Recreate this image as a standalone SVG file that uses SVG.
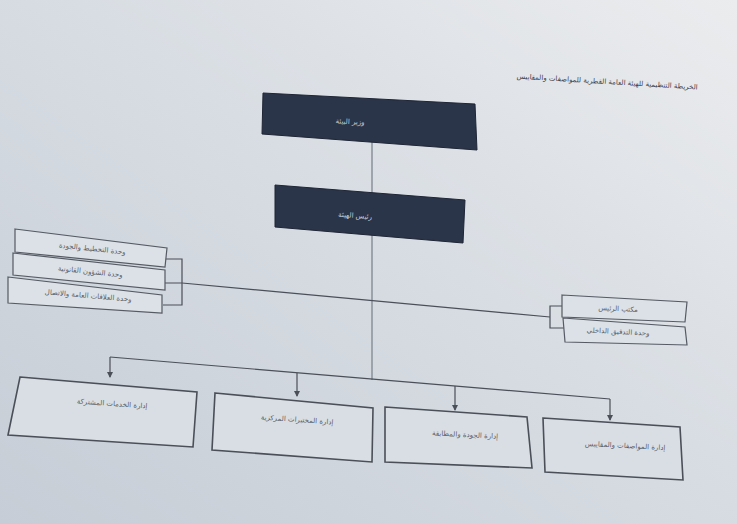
<svg xmlns="http://www.w3.org/2000/svg" width="737" height="524" viewBox="0 0 737 524">
<defs>
<linearGradient id="bg" x1="1" y1="0" x2="0" y2="1">
<stop offset="0" stop-color="#ebecee"/>
<stop offset="0.45" stop-color="#d8dde3"/>
<stop offset="1" stop-color="#c6cdd6"/>
</linearGradient>
<marker id="ar" viewBox="0 0 6 6" refX="5" refY="3" markerWidth="5" markerHeight="5" orient="auto">
<path d="M0,0 L6,3 L0,6 z" fill="#4a4f58"/>
</marker>
<style>
.dark{fill:#2b3549;stroke:#1e2535;stroke-width:1}
.box{fill:#d9dee4;stroke:#4a4f58;stroke-width:1.6}
.sbox{fill:#dce1e7;stroke:#555a63;stroke-width:1.2}
.ln{fill:none;stroke:#4a4f58;stroke-width:1.2}
.vl{fill:none;stroke:#8a9098;stroke-width:1.5}
.t{font-family:"DejaVu Sans",sans-serif;font-size:7px;fill:#5a5f66;text-anchor:middle}
.tw{font-family:"DejaVu Sans",sans-serif;font-size:7px;fill:#c9ced8;text-anchor:middle}
</style>
</defs>
<rect width="737" height="524" fill="url(#bg)"/>
<text class="t" x="607" y="84" transform="rotate(3.5 607 84)" style="fill:#3c4048">الخريطة التنظيمية للهيئة العامة القطرية للمواصفات والمقاييس</text>
<g id="connectors">
<path class="vl" d="M372,142 L372,380"/>
<path class="ln" d="M182,283 L550,317"/>
<path class="ln" d="M165,259 L182,259 L182,305 L163,305 M165,283 L182,283"/>
<path class="ln" d="M563,306 L550,306 L550,328 L564,328"/>
<path class="ln" d="M110,357 L610,399"/>
<path class="ln" d="M110,357 L110,377" marker-end="url(#ar)"/>
<path class="ln" d="M297,373 L297,396" marker-end="url(#ar)"/>
<path class="ln" d="M455,386 L455,410" marker-end="url(#ar)"/>
<path class="ln" d="M610,399 L610,420" marker-end="url(#ar)"/>
</g>
<g id="n-minister">
<polygon class="dark" points="263,93 475,104 477,150 262,134"/>
<text class="tw" x="350" y="124" transform="rotate(3 350 124)">وزير البيئة</text>
</g>
<g id="n-president">
<polygon class="dark" points="275,185 465,200 463,243 275,227"/>
<text class="tw" x="355" y="218" transform="rotate(4 355 218)">رئيس الهيئة</text>
</g>
<g id="n-left1">
<polygon class="sbox" points="15,229 167,248 165,267 15,252"/>
<text class="t" x="92" y="251" transform="rotate(6 92 251)">وحدة التخطيط والجودة</text>
</g>
<g id="n-left2">
<polygon class="sbox" points="13,253 165,270 165,290 13,275"/>
<text class="t" x="90" y="274" transform="rotate(6 90 274)">وحدة الشؤون القانونية</text>
</g>
<g id="n-left3">
<polygon class="sbox" points="8,277 162,295 162,313 8,303"/>
<text class="t" x="88" y="298" transform="rotate(5 88 298)">وحدة العلاقات العامة والاتصال</text>
</g>
<g id="n-right1">
<polygon class="sbox" points="562,295 687,302 685,322 562,317"/>
<text class="t" x="618" y="311" transform="rotate(3 618 311)">مكتب الرئيس</text>
</g>
<g id="n-right2">
<polygon class="sbox" points="563,318 685,327 687,345 565,342"/>
<text class="t" x="618" y="334" transform="rotate(3 618 334)">وحدة التدقيق الداخلي</text>
</g>
<g id="n-shared">
<polygon class="box" points="20,377 197,392 193,447 8,435"/>
<text class="t" x="112" y="406" transform="rotate(4 112 406)">إدارة الخدمات المشتركة</text>
</g>
<g id="n-labs">
<polygon class="box" points="215,393 373,408 372,462 212,450"/>
<text class="t" x="297" y="422" transform="rotate(4 297 422)">إدارة المختبرات المركزية</text>
</g>
<g id="n-quality">
<polygon class="box" points="385,407 527,417 532,468 385,462"/>
<text class="t" x="465" y="437" transform="rotate(3 465 437)">إدارة الجودة والمطابقة</text>
</g>
<g id="n-standards">
<polygon class="box" points="543,418 680,427 683,480 545,472"/>
<text class="t" x="625" y="448" transform="rotate(3 625 448)">إدارة المواصفات والمقاييس</text>
</g>
</svg>
